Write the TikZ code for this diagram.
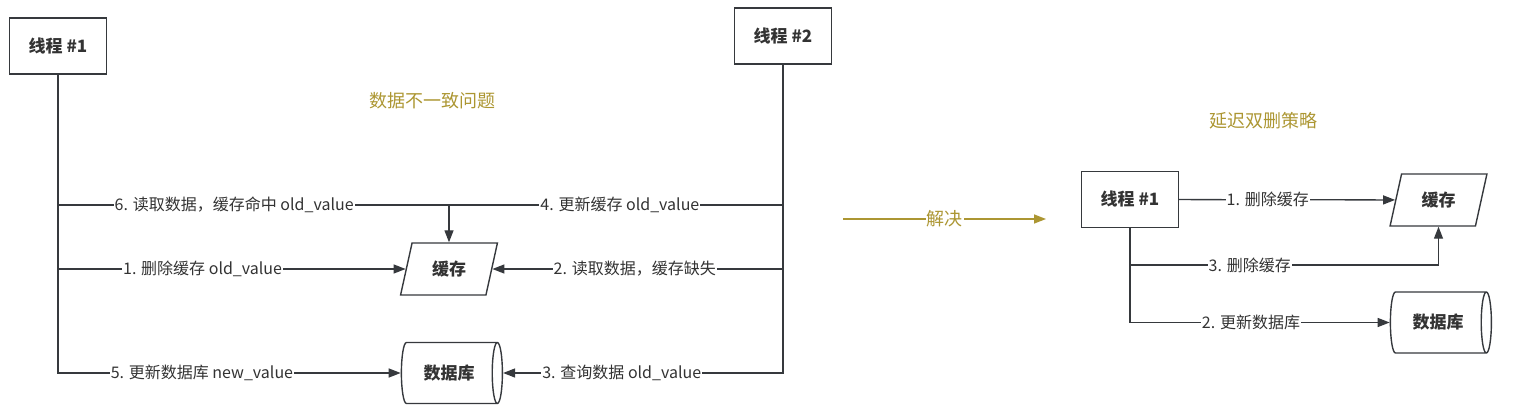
\documentclass[tikz,border=0pt]{standalone}
\usepackage{fontspec}
\setmainfont{Noto Sans CJK SC}
\usepackage{xcolor}
\usetikzlibrary{shapes.geometric, arrows.meta, positioning}
\definecolor{linegray}{RGB}{54,57,61}
\definecolor{textgray}{RGB}{51,51,51}
\definecolor{olivegold}{RGB}{172,150,50}

\begin{document}
\begin{tikzpicture}[
  x=1pt, y=-1pt,
  threadbox/.style={rectangle, draw=linegray, line width=1.4pt, minimum width=97pt, minimum height=56pt, text=textgray, font=\fontsize{17}{20}\selectfont\bfseries},
  cachebox/.style={trapezium, trapezium left angle=72, trapezium right angle=108, trapezium stretches=true, draw=linegray, line width=1.4pt, minimum width=97pt, minimum height=52pt, inner sep=0pt, text=textgray, font=\fontsize{17}{20}\selectfont\bfseries},
  dbbox/.style={cylinder, shape aspect=0.62, draw=linegray, line width=1.4pt, minimum width=61pt, minimum height=101pt, inner sep=0pt, text=textgray, font=\fontsize{17}{20}\selectfont\bfseries},
  line/.style={draw=linegray, line width=1.3pt},
  arrow/.style={line, -{Triangle[length=12pt, width=9pt]}},
  lbl/.style={fill=white, inner sep=1pt, text=textgray, font=\fontsize{16}{18}\selectfont},
  title/.style={text=olivegold, font=\fontsize{18}{21}\selectfont}
]
\useasboundingbox (0,0) rectangle (1515,412);

% Left: the problem
\node[threadbox] (t1) at (58,46) {线程 \#1};
\node[threadbox] (t2) at (783,36) {线程 \#2};
\node[title] (title1) at (432,101) {数据不一致问题};
\node[cachebox] (cache) at (449,269) {缓存};
\node[dbbox] (db) at (449,373) {数据库};
\coordinate (hit) at (449,205);

% Thread #1 and thread #2 lines
\draw[line] (t1.south |- hit) -- (t2.south |- hit)
  node[lbl, pos=0.243] {6. 读取数据，缓存命中 old\_value}
  node[lbl, pos=0.775] {4. 更新缓存 old\_value};
\draw[arrow] (hit) -- (cache);
\draw[arrow] (t1.south) |- (db) node[lbl, pos=0.71] {5. 更新数据库 new\_value};
\draw[arrow] (t1.south |- cache) -- (cache) node[lbl, pos=0.416] {1. 删除缓存 old\_value};
\draw[arrow] (t2.south) |- (db) node[lbl, pos=0.788] {3. 查询数据 old\_value};
\draw[arrow] (t2.south |- cache) -- (cache) node[lbl, pos=0.51] {2. 读取数据，缓存缺失};

% Solve arrow
\coordinate (s1) at (843,219);
\coordinate (s2) at (1046,219);
\draw[draw=olivegold, line width=1.5pt, -{Triangle[length=12pt, width=9pt]}] (s1) -- (s2)
  node[fill=white, inner sep=1pt, text=olivegold, font=\fontsize{18}{21}\selectfont, midway] {解决};

% Right: delayed double delete
\node[title] (title2) at (1263,121) {延迟双删策略};
\node[threadbox] (t3) at (1130,199.5) {线程 \#1};
\node[cachebox] (cache2) at (1438.5,200) {缓存};
\node[dbbox] (db2) at (1438,322.5) {数据库};
\coordinate (bend) at (1439,265);

\draw[arrow] (t3) -- (cache2) node[lbl, pos=0.41] {1. 删除缓存};
\draw[arrow] (t3.south) |- (db2) node[lbl, pos=0.733] {2. 更新数据库};
\draw[arrow] (t3.south |- bend) -| (cache2) node[lbl, pos=0.194] {3. 删除缓存};

\end{tikzpicture}
\end{document}
